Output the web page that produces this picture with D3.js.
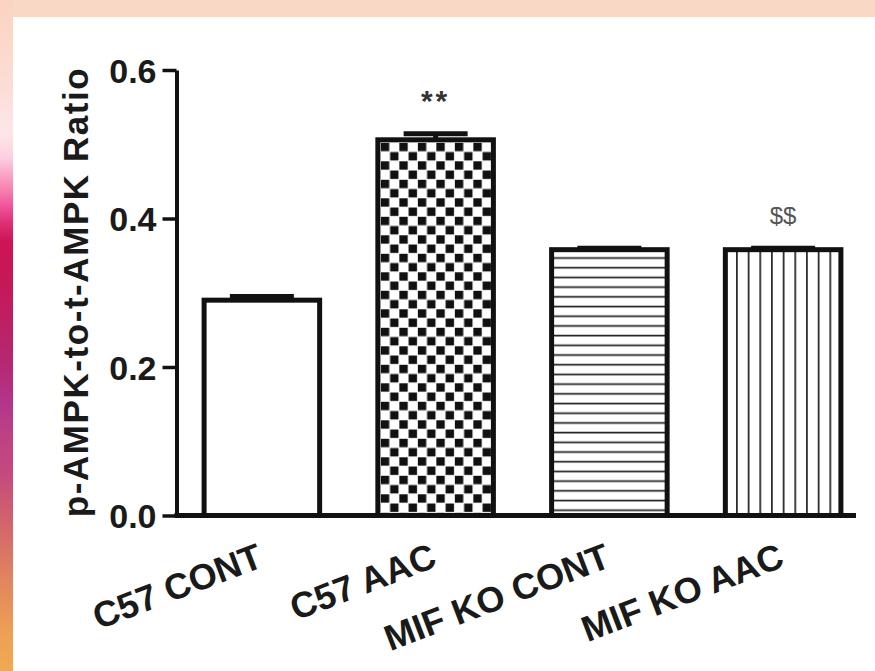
<!DOCTYPE html>
<html>
<head>
<meta charset="utf-8">
<script src="https://cdn.jsdelivr.net/npm/d3@7"></script>
<style>
    body { margin: 0; background: #fff; }
    text { font-family: "Liberation Sans", Arial, Helvetica, sans-serif; }
</style>
</head>
<body>
<script>
// values
const categories = ["C57 CONT", "C57 AAC", "MIF KO CONT", "MIF KO AAC"];
const means = [0.290, 0.506, 0.358, 0.358];
const sems = [0.005, 0.008, 0.002, 0.002];
const marks = ["", "**", "", "$$"];
const yTicks = [0, 0.2, 0.4, 0.6];

// fill style per bar
const fillKinds = ["open", "checker", "hlines", "vlines"];

const width = 875, height = 671;

const svg = d3.select("body")
    .append("svg")
    .attr("width", width)
    .attr("height", height);

const defs = svg.append("defs");

// the coloured page edge of the original scan
const grad = defs.append("linearGradient")
    .attr("id", "edge")
    .attr("x1", 0).attr("y1", 0)
    .attr("x2", 0).attr("y2", 1);

[[0, "#FBD3C2"], [0.12, "#FCDCD3"], [0.2, "#FDE6EA"], [0.235, "#FCCFE0"],
 [0.26, "#FAA5C6"], [0.285, "#F67DAE"], [0.31, "#EF4F97"], [0.335, "#DD2C70"],
 [0.36, "#CD1456"], [0.42, "#C61858"], [0.48, "#BD2063"], [0.54, "#B52872"],
 [0.6, "#B3358A"], [0.65, "#BE4283"], [0.7, "#C44880"], [0.745, "#CC5873"],
 [0.795, "#D56A69"], [0.845, "#DE7E62"], [0.895, "#E6905A"], [0.945, "#EDA055"],
 [1, "#F0AA50"]].forEach(s => {
    grad.append("stop").attr("offset", s[0]).attr("stop-color", s[1]);
});

svg.append("rect")
    .attr("x", 0).attr("y", 0)
    .attr("width", width).attr("height", 17)
    .attr("fill", "#FAD8C6");

svg.append("rect")
    .attr("x", 0).attr("y", 0)
    .attr("width", 13).attr("height", height)
    .attr("fill", "url(#edge)");

// scales
const y = d3.scaleLinear()
    .domain([0, 0.6])
    .range([515.5, 70]);

const x = d3.scaleBand()
    .domain(categories)
    .range([175, 870])
    .paddingInner(0.335)
    .paddingOuter(0.1675);

const bw = x.bandwidth();

const data = categories.map((c, i) => ({
    cat: c, mean: means[i], sem: sems[i], mark: marks[i], kind: fillKinds[i], i: i
}));

// one pattern per bar so the hatching starts at the bar's own corner
data.forEach(d => {
    const bx = x(d.cat), by = y(d.mean);
    if (d.kind === "checker") {
        const p = defs.append("pattern")
            .attr("id", "pat" + d.i)
            .attr("patternUnits", "userSpaceOnUse")
            .attr("x", bx + 3).attr("y", by + 3)
            .attr("width", 18.5).attr("height", 18.5);
        p.append("rect").attr("width", 18.5).attr("height", 18.5).attr("fill", "#fff");
        p.append("rect").attr("x", 0).attr("y", 0).attr("width", 8.4).attr("height", 8.4).attr("fill", "#111");
        p.append("rect").attr("x", 9.25).attr("y", 9.25).attr("width", 8.4).attr("height", 8.4).attr("fill", "#111");
    } else if (d.kind === "hlines") {
        const p = defs.append("pattern")
            .attr("id", "pat" + d.i)
            .attr("patternUnits", "userSpaceOnUse")
            .attr("x", bx).attr("y", by)
            .attr("width", 10).attr("height", 9.7);
        p.append("rect").attr("width", 10).attr("height", 9.7).attr("fill", "#fff");
        p.append("rect").attr("x", 0).attr("y", 7.5).attr("width", 10).attr("height", 1.7).attr("fill", "#222");
    } else if (d.kind === "vlines") {
        const p = defs.append("pattern")
            .attr("id", "pat" + d.i)
            .attr("patternUnits", "userSpaceOnUse")
            .attr("x", bx + 10.7).attr("y", by)
            .attr("width", 11.67).attr("height", 10);
        p.append("rect").attr("width", 11.67).attr("height", 10).attr("fill", "#fff");
        p.append("rect").attr("x", 0).attr("y", 0).attr("width", 1.7).attr("height", 10).attr("fill", "#222");
    }
});

// bars
svg.append("g")
    .selectAll("rect")
    .data(data)
    .enter()
    .append("rect")
    .attr("x", d => x(d.cat))
    .attr("y", d => y(d.mean))
    .attr("width", bw)
    .attr("height", d => y(0) - y(d.mean))
    .attr("fill", d => d.kind === "open" ? "#fff" : "url(#pat" + d.i + ")")
    .attr("stroke", "#111")
    .attr("stroke-width", 5);

// error bars (mean + SEM)
const err = svg.append("g")
    .attr("stroke", "#111")
    .attr("stroke-width", 5);

err.selectAll("line.v")
    .data(data)
    .enter()
    .append("line")
    .attr("class", "v")
    .attr("x1", d => x(d.cat) + bw / 2)
    .attr("x2", d => x(d.cat) + bw / 2)
    .attr("y1", d => y(d.mean))
    .attr("y2", d => y(d.mean + d.sem));

err.selectAll("line.cap")
    .data(data)
    .enter()
    .append("line")
    .attr("class", "cap")
    .attr("x1", d => x(d.cat) + bw / 2 - 32)
    .attr("x2", d => x(d.cat) + bw / 2 + 32)
    .attr("y1", d => y(d.mean + d.sem))
    .attr("y2", d => y(d.mean + d.sem));

// significance marks
svg.append("g")
    .selectAll("text")
    .data(data.filter(d => d.mark !== ""))
    .enter()
    .append("text")
    .attr("x", d => x(d.cat) + bw / 2)
    .attr("y", d => y(d.mean + d.sem) - (d.mark === "**" ? 22.5 : 24))
    .attr("text-anchor", "middle")
    .attr("font-size", d => d.mark === "**" ? 30 : 24)
    .attr("font-weight", d => d.mark === "**" ? "bold" : "normal")
    .attr("letter-spacing", d => d.mark === "**" ? 3 : 0)
    .attr("fill", d => d.mark === "**" ? "#333" : "#555")
    .text(d => d.mark);

// x axis line
svg.append("line")
    .attr("x1", 174.5)
    .attr("x2", x.range()[1] - 14)
    .attr("y1", y(0))
    .attr("y2", y(0))
    .attr("stroke", "#111")
    .attr("stroke-width", 5);

// y axis
const yAxis = svg.append("g")
    .attr("transform", "translate(176.5,0)")
    .call(d3.axisLeft(y)
        .tickValues(yTicks)
        .tickSize(14)
        .tickSizeOuter(0)
        .tickPadding(6)
        .tickFormat(d3.format(".1f")));

yAxis.select(".domain")
    .attr("stroke", "#111")
    .attr("stroke-width", 4);

yAxis.selectAll(".tick line")
    .attr("stroke", "#111")
    .attr("stroke-width", 3.5);

yAxis.selectAll(".tick text")
    .attr("font-family", "'Liberation Sans', Arial, sans-serif")
    .attr("font-size", 34)
    .attr("font-weight", "bold")
    .attr("fill", "#1a1a1a")
    .attr("dy", "0.36em");

// category labels, slanted
svg.append("g")
    .selectAll("text")
    .data(data)
    .enter()
    .append("text")
    .attr("transform", d => "translate(" + (x(d.cat) + bw / 2 + 3) + ",566) rotate(-21)")
    .attr("text-anchor", "end")
    .attr("font-size", 36)
    .attr("font-weight", "bold")
    .attr("fill", "#1a1a1a")
    .text(d => d.cat);

// y axis title
svg.append("text")
    .attr("transform", "translate(88," + ((y(0) + y(0.6)) / 2) + ") rotate(-90)")
    .attr("text-anchor", "middle")
    .attr("font-size", 35)
    .attr("font-weight", "bold")
    .attr("fill", "#1a1a1a")
    .attr("textLength", 449)
    .text("p-AMPK-to-t-AMPK Ratio");
</script>
</body>
</html>
